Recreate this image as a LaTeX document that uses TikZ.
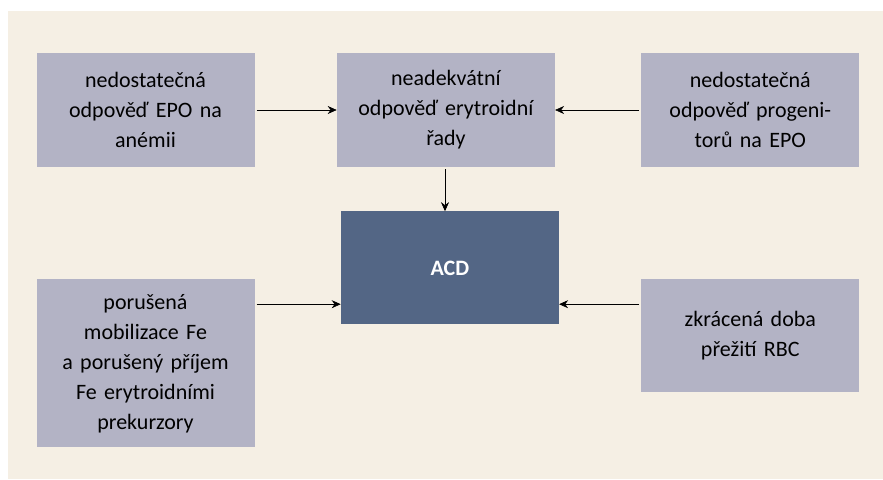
\documentclass[tikz,border=0pt]{standalone}
\usepackage{fontspec}
\setmainfont{Carlito}
\usetikzlibrary{arrows.meta, positioning}
\definecolor{acdpage}{HTML}{F5EFE4}
\definecolor{acdbox}{HTML}{B3B3C5}
\definecolor{acdcore}{HTML}{536685}

\begin{document}
\begin{tikzpicture}[
   font=\fontsize{22}{30}\selectfont,
   node distance=84pt,
   box/.style={rectangle, fill=acdbox, text width=210pt, align=center,
               minimum width=218pt, minimum height=114pt, inner sep=0pt},
   core/.style={box, fill=acdcore, text=white, minimum height=113pt,
                font=\fontsize{22}{26}\selectfont\bfseries},
   arr/.style={-{Stealth[length=9pt, width=8pt]}, semithick, shorten <=2pt}]
 \useasboundingbox (0pt,0pt) rectangle (883pt,-479pt);
 \fill[acdpage] (8pt,-11pt) rectangle (883pt,-479pt);
 \node[box] (epo) at (145.5pt,-110pt) {nedostatečná\\odpověď EPO na\\anémii};
 \node[box, right=82pt of epo] (ery) {neadekvátní\\odpověď erytroidní\\řady};
 \node[box, right=86pt of ery] (prog) {nedostatečná\\odpověď progeni-\\torů na EPO};
 \node[core, below=44pt of ery, xshift=4pt] (acd) {ACD};
 \node[box, minimum height=168pt, below=112pt of epo] (fe)
   {porušená\\mobilizace Fe\\a porušený příjem\\Fe erytroidními\\prekurzory};
 \node[box, minimum height=113pt, below=112pt of prog] (rbc) {zkrácená doba\\přežití RBC};
 \draw[arr] (epo) -- (ery);
 \draw[arr] (prog) -- (ery);
 \draw[arr] (ery.south -| 445pt,0) -- (acd.north -| 445pt,0);
 \draw[arr] ([yshift=-25pt]fe.north east) -- ([yshift=-25pt]fe.north east -| acd.west);
 \draw[arr] ([yshift=-25pt]rbc.north west) -- ([yshift=-25pt]rbc.north west -| acd.east);
\end{tikzpicture}
\end{document}
